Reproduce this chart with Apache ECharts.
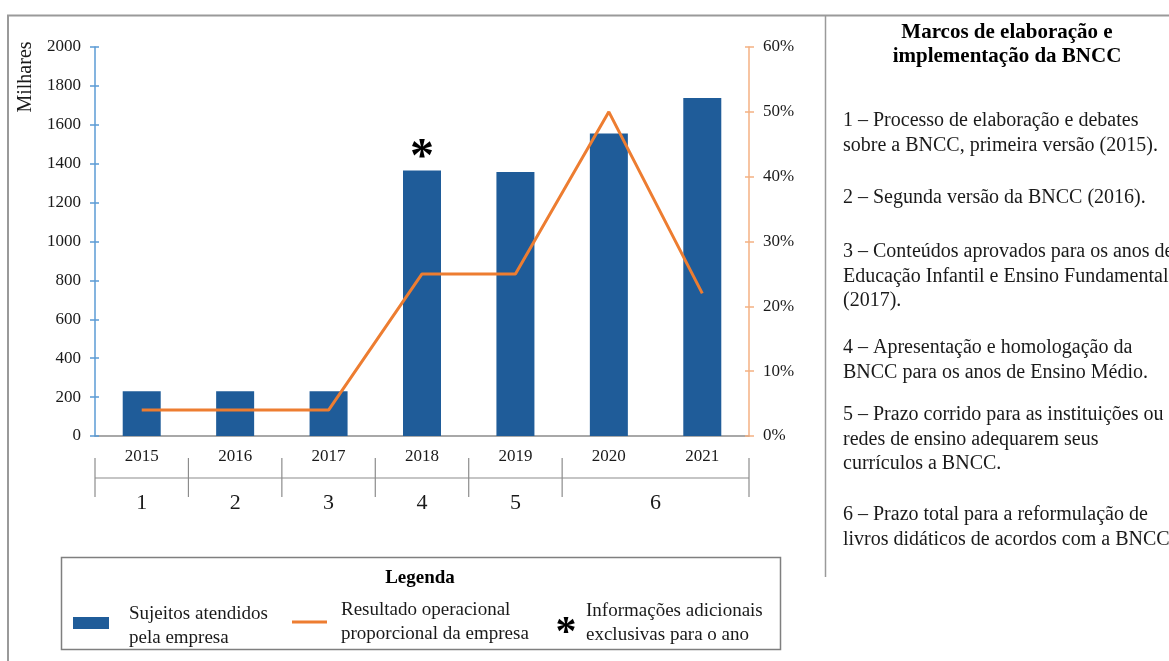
<!DOCTYPE html>
<html>
<head>
<meta charset="utf-8">
<script src="https://cdn.jsdelivr.net/npm/echarts@6/dist/echarts.min.js"></script>
<style>
  html, body { margin: 0; padding: 0; background: #fff; }
  #chart { width: 1169px; height: 661px; }
</style>
</head>
<body>
<div id="chart"></div>
<script>
// ---- data ----
const years = ['2015', '2016', '2017', '2018', '2019', '2020', '2021'];
const sujeitos = [230, 230, 230, 1365, 1357, 1555, 1738];      // milhares
const resultado = [4, 4, 4, 25, 25, 50, 22];                    // %
const asteriskYears = ['2018'];
const milestoneLabels = ['1', '2', '3', '4', '5', '6'];
const milestoneSpans = [1, 1, 1, 1, 1, 2];                     // years covered by each milestone
const leftAxisName = 'Milhares';
const panelTitle = ['Marcos de elaboração e', 'implementação da BNCC'];
const panelItems = [
  ['1 – Processo de elaboração e debates', 'sobre a BNCC, primeira versão (2015).'],
  ['2 – Segunda versão da BNCC (2016).'],
  ['3 – Conteúdos aprovados para os anos de', 'Educação Infantil e Ensino Fundamental', '(2017).'],
  ['4 – Apresentação e homologação da', 'BNCC para os anos de Ensino Médio.'],
  ['5 – Prazo corrido para as instituições ou', 'redes de ensino adequarem seus', 'currículos a BNCC.'],
  ['6 – Prazo total para a reformulação de', 'livros didáticos de acordos com a BNCC.']
];
const legendTitle = 'Legenda';
const legendBarText = 'Sujeitos atendidos\npela empresa';
const legendLineText = 'Resultado operacional\nproporcional da empresa';
const legendStarText = 'Informações adicionais\nexclusivas para o ano';

// ---- style ----
const SERIF = '"Liberation Serif", "Times New Roman", serif';
const BAR_COLOR = '#1f5c99';
const LINE_COLOR = '#ed7d31';
const LEFT_AXIS_COLOR = '#5b9bd5';
const RIGHT_AXIS_COLOR = '#f4b183';
const TEXT = '#1a1a1a';

const chart = echarts.init(document.getElementById('chart'), null, { renderer: 'canvas' });

const barData = years.map((y, i) => asteriskYears.includes(y)
  ? { value: sujeitos[i], label: { show: true, formatter: '*', position: 'top', distance: -12,
      fontFamily: SERIF, fontWeight: 'bold', fontSize: 48, color: '#000' } }
  : sujeitos[i]);

const valueAxis = (pos, max, interval, color, fmt) => ({
  type: 'value', position: pos, min: 0, max: max, interval: interval,
  axisLine: { show: true, lineStyle: { color: color, width: 1.5 } },
  axisTick: { show: true, length: 5, lineStyle: { color: color, width: 1.5 } },
  axisLabel: { color: TEXT, fontFamily: SERIF, fontSize: 17, margin: 14, formatter: fmt },
  splitLine: { show: false }
});
// companion axes that draw the inner half of each tick
const innerTickAxis = (pos, max, interval, color) => ({
  type: 'value', position: pos, min: 0, max: max, interval: interval,
  axisLine: { show: false },
  axisTick: { show: true, inside: true, length: 4, lineStyle: { color: color, width: 1.5 } },
  axisLabel: { show: false }, splitLine: { show: false }
});

chart.setOption({
  animation: false,
  backgroundColor: '#fff',
  grid: { left: 95, right: 420, top: 47, bottom: 225, containLabel: false },
  xAxis: {
    type: 'category', data: years,
    axisLine: { show: true, lineStyle: { color: '#8c8c8c', width: 1.5 } },
    axisTick: { show: false },
    axisLabel: { color: TEXT, fontFamily: SERIF, fontSize: 17, margin: 12 }
  },
  yAxis: [
    valueAxis('left', 2000, 200, LEFT_AXIS_COLOR, v => String(v)),
    valueAxis('right', 60, 10, RIGHT_AXIS_COLOR, v => v + '%'),
    innerTickAxis('left', 2000, 200, LEFT_AXIS_COLOR),
    innerTickAxis('right', 60, 10, RIGHT_AXIS_COLOR)
  ],
  series: [
    { name: 'Sujeitos atendidos pela empresa', type: 'bar', data: barData, barWidth: 38,
      itemStyle: { color: BAR_COLOR }, z: 2 },
    { name: 'Resultado operacional proporcional da empresa', type: 'line', yAxisIndex: 1,
      data: resultado, symbol: 'none', lineStyle: { color: LINE_COLOR, width: 3 }, z: 3 }
  ]
});

// ---- annotations positioned from the axes ----
const cx = i => chart.convertToPixel({ xAxisIndex: 0 }, i);
const baseY = chart.convertToPixel({ yAxisIndex: 0 }, 0);
const band = cx(1) - cx(0);
const graphics = [];

// outer frame and panel separator
graphics.push({ type: 'polyline', shape: { points: [[8, 661], [8, 15.5], [1169, 15.5]] },
  style: { stroke: '#9a9a9a', lineWidth: 2, fill: null }, z: 10 });
graphics.push({ type: 'line', shape: { x1: 825.5, y1: 15, x2: 825.5, y2: 577 },
  style: { stroke: '#9a9a9a', lineWidth: 1.5 }, z: 10 });

// y-axis name
graphics.push({ type: 'text', x: 26, y: 77, rotation: Math.PI / 2,
  style: { text: leftAxisName, fontFamily: SERIF, fontSize: 20, fill: TEXT, align: 'center', verticalAlign: 'middle' } });

// milestone row beneath the years
const rowTop = baseY + 22, rowBot = baseY + 61, rowMid = baseY + 42, rowText = baseY + 67;
let start = 0;
const leftEdge = cx(0) - band / 2;
const rightEdge = cx(years.length - 1) + band / 2;
graphics.push({ type: 'line', shape: { x1: leftEdge, y1: rowMid, x2: rightEdge, y2: rowMid },
  style: { stroke: '#8c8c8c', lineWidth: 1.2 } });
graphics.push({ type: 'line', shape: { x1: leftEdge, y1: rowTop, x2: leftEdge, y2: rowBot },
  style: { stroke: '#8c8c8c', lineWidth: 1.2 } });
milestoneLabels.forEach((lab, k) => {
  const end = start + milestoneSpans[k];
  const x0 = cx(start) - band / 2;
  const x1 = cx(end - 1) + band / 2;
  graphics.push({ type: 'line', shape: { x1: x1, y1: rowTop, x2: x1, y2: rowBot },
    style: { stroke: '#8c8c8c', lineWidth: 1.2 } });
  graphics.push({ type: 'text', x: (x0 + x1) / 2, y: rowText,
    style: { text: lab, fontFamily: SERIF, fontSize: 22, fill: TEXT, align: 'center', verticalAlign: 'middle' } });
  start = end;
});

// legend box
graphics.push({ type: 'rect', shape: { x: 61.5, y: 557.5, width: 719, height: 92 },
  style: { stroke: '#7f7f7f', lineWidth: 1.5, fill: '#fff' }, z: 5 });
graphics.push({ type: 'text', x: 420, y: 578, z: 6,
  style: { text: legendTitle, fontFamily: SERIF, fontWeight: 'bold', fontSize: 19, fill: '#000', align: 'center', verticalAlign: 'middle' } });
graphics.push({ type: 'rect', shape: { x: 73, y: 617, width: 36, height: 12 }, z: 6,
  style: { fill: BAR_COLOR } });
graphics.push({ type: 'text', x: 129, y: 626, z: 6,
  style: { text: legendBarText, fontFamily: SERIF, fontSize: 19, lineHeight: 24, fill: TEXT, align: 'left', verticalAlign: 'middle' } });
graphics.push({ type: 'line', shape: { x1: 292, y1: 622, x2: 327, y2: 622 }, z: 6,
  style: { stroke: LINE_COLOR, lineWidth: 3 } });
graphics.push({ type: 'text', x: 341, y: 622.5, z: 6,
  style: { text: legendLineText, fontFamily: SERIF, fontSize: 19, lineHeight: 24, fill: TEXT, align: 'left', verticalAlign: 'middle' } });
graphics.push({ type: 'text', x: 566, y: 634, z: 6,
  style: { text: '*', fontFamily: SERIF, fontWeight: 'bold', fontSize: 42, fill: '#000', align: 'center', verticalAlign: 'middle' } });
graphics.push({ type: 'text', x: 586, y: 623, z: 6,
  style: { text: legendStarText, fontFamily: SERIF, fontSize: 19, lineHeight: 24, fill: TEXT, align: 'left', verticalAlign: 'middle' } });

// side panel: milestone descriptions
panelTitle.forEach((t, i) => graphics.push({ type: 'text', x: 1007, y: 33 + i * 24,
  style: { text: t, fontFamily: SERIF, fontWeight: 'bold', fontSize: 21, fill: '#000', align: 'center', verticalAlign: 'middle' } }));
const itemTops = [121, 198, 252, 348, 415, 515];
panelItems.forEach((lines, k) => lines.forEach((t, j) => graphics.push({ type: 'text', x: 843, y: itemTops[k] + j * 24.5,
  style: { text: t, fontFamily: SERIF, fontSize: 20, fill: TEXT, align: 'left', verticalAlign: 'middle' } })));

chart.setOption({ graphic: graphics });
</script>
</body>
</html>
